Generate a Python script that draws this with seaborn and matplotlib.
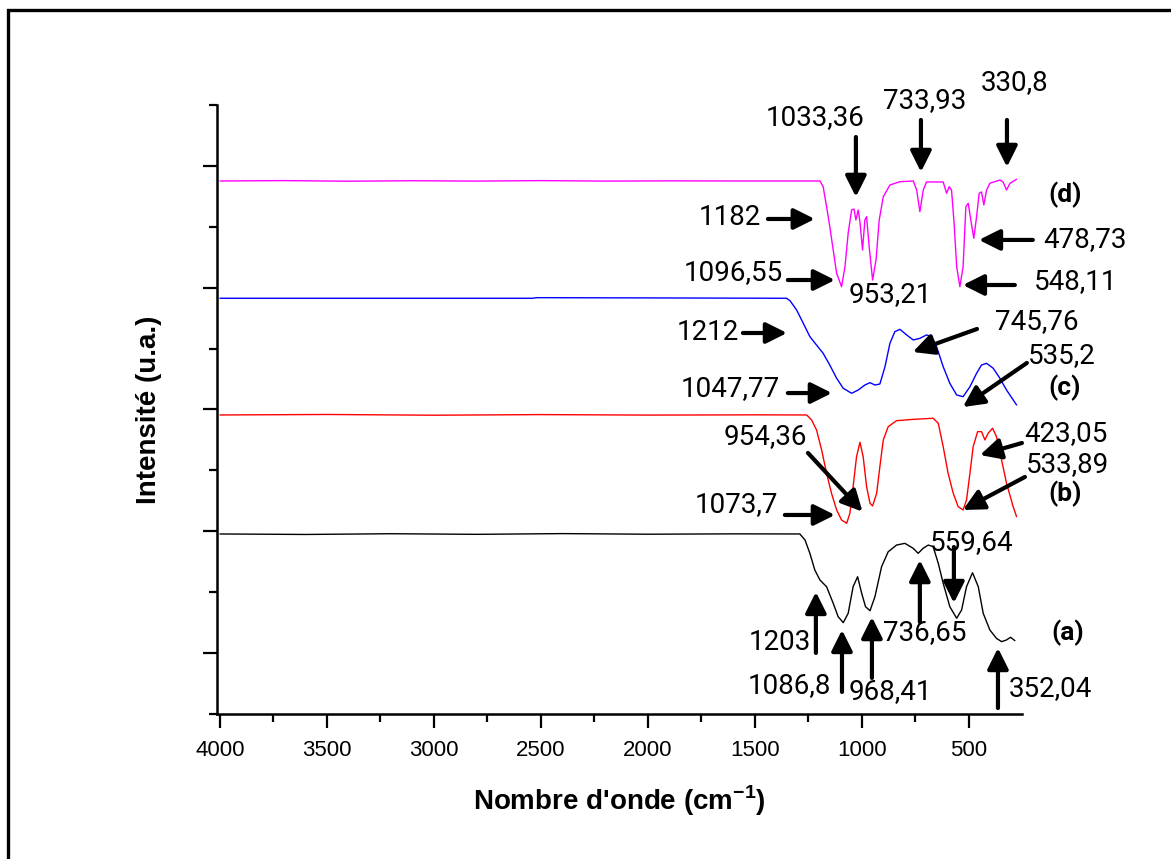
import matplotlib
matplotlib.use("Agg")
import matplotlib.pyplot as plt
from matplotlib.patches import Rectangle
from matplotlib.ticker import FixedLocator, NullFormatter
import seaborn as sns
import pandas as pd

# ---- spectra (wavenumber in cm-1, stacked intensity in a.u.) ----
wn_a = [4000, 3600, 3200, 2800, 2400, 2000, 1600, 1290, 1266, 1243, 1220, 1196, 1165, 1134,
        1111, 1087, 1064, 1041, 1020, 1001, 983, 962, 939, 908, 877, 838, 799, 760, 737,
        714, 690, 667, 643, 620, 589, 557, 534, 511, 483, 456, 433, 402, 371, 347, 324, 305, 285]
int_a = [147.8, 147.4, 148.0, 147.5, 148.1, 147.6, 147.9, 147.8, 142.9, 131.9, 118.2, 110.0, 104.5, 90.9,
         79.9, 75.0, 82.7, 104.5, 112.7, 99.1, 88.1, 84.8, 96.3, 120.9, 133.2, 138.7, 140.1, 136.0, 131.9,
         136.0, 138.7, 137.4, 123.7, 107.3, 88.1, 78.6, 85.4, 104.5, 116.0, 104.5, 82.7, 69.0, 62.1, 59.4, 60.8, 63.0, 60.2]

wn_b = [4000, 3500, 3000, 2500, 2000, 1500, 1258, 1235, 1212, 1188, 1165, 1142, 1118, 1095,
        1071, 1056, 1041, 1025, 1009, 994, 978, 962, 950, 931, 916, 900, 877, 838, 760, 667,
        643, 620, 597, 573, 550, 527, 511, 495, 480, 459, 441, 425, 410, 389, 371, 347, 324, 293, 277]
int_b = [245.5, 245.9, 245.3, 245.8, 245.4, 245.6, 245.5, 241.4, 233.2, 216.7, 197.6, 181.2, 167.5, 159.3,
         156.6, 164.8, 186.6, 211.2, 223.1, 211.2, 186.6, 173.0, 170.8, 181.2, 203.0, 225.0, 235.9, 240.8, 241.9, 242.8,
         238.7, 219.5, 197.6, 181.2, 170.2, 167.5, 175.7, 197.6, 219.5, 231.8, 231.8, 225.0, 230.5, 234.6, 227.7, 208.5, 189.4, 170.2, 162.0]

wn_c = [4000, 3000, 2540, 2520, 2000, 1352, 1336, 1305, 1274, 1243, 1212, 1181, 1150, 1118,
        1087, 1048, 1017, 986, 962, 939, 916, 892, 869, 846, 822, 791, 760, 729, 698, 674,
        651, 620, 589, 557, 527, 495, 464, 441, 417, 386, 355, 324, 277]
int_c = [341.3, 341.3, 341.3, 341.8, 341.6, 341.3, 339.3, 331.7, 320.8, 309.8, 302.9, 296.1, 286.5, 275.6,
         267.4, 263.3, 266.0, 270.1, 272.0, 270.1, 270.9, 285.1, 304.3, 313.9, 315.8, 311.2, 307.1, 308.4, 311.2, 309.8,
         301.6, 285.1, 271.5, 261.9, 260.5, 268.7, 279.7, 286.5, 287.9, 283.8, 275.6, 266.0, 253.7]

wn_d = [4000, 3700, 3400, 3100, 2800, 2500, 2200, 1900, 1600, 1196, 1181, 1165, 1150, 1134,
        1118, 1095, 1079, 1064, 1048, 1037, 1028, 1017, 1009, 997, 986, 978, 966, 950, 934,
        919, 900, 869, 822, 760, 744, 729, 713, 698, 620, 604, 592, 581, 569, 557, 542, 527,
        514, 503, 491, 477, 464, 452, 441, 430, 417, 402, 355, 340, 324, 308, 277]
int_d = [437.6, 437.9, 437.4, 437.8, 437.5, 437.9, 437.5, 437.7, 437.6, 437.6, 432.9, 416.5, 400.1, 380.9,
         361.8, 350.8, 367.2, 394.9, 413.8, 414.6, 405.6, 413.8, 403.9, 380.9, 405.6, 408.3, 383.7, 356.3, 372.7,
         405.6, 424.7, 434.3, 437.0, 437.6, 430.2, 412.4, 430.2, 436.8, 436.8, 427.5, 432.9, 430.2, 402.9, 367.2, 350.8, 367.2,
         416.5, 419.3, 405.6, 390.5, 408.3, 427.5, 428.6, 417.9, 430.2, 435.7, 438.4, 436.8, 430.2, 435.7, 439.0]

# ---- band labels: text, text position, arrow tail, arrow tip ----
bands = [
    ("1033,36", (1220, 489.3), (1028, 473.7), (1028, 424.5)),
    ("733,93", (705, 503.3), (724, 487.7), (724, 445.0)),
    ("330,8", (285, 518.1), (322, 487.7), (322, 449.1)),
    ("1182", (1617, 408.0), (1439, 406.4), (1220, 406.4)),
    ("1096,55", (1603, 362.1), (1346, 356.3), (1126, 356.3)),
    ("953,21", (869, 344.0), None, None),
    ("478,73", (-42, 389.2), (201, 389.2), (453, 389.2)),
    ("548,11", (0, 354.7), (285, 352.2), (528, 352.2)),
    ("1212", (1720, 313.6), (1556, 312.8), (1350, 312.8)),
    ("1047,77", (1617, 267.6), (1346, 263.5), (1140, 263.5)),
    ("745,76", (182, 321.8), (462, 316.1), (762, 297.2)),
    ("535,2", (65, 294.7), (229, 288.2), (528, 252.0)),
    ("954,36", (1453, 227.4), (1252, 214.3), (997, 166.1)),
    ("1073,7", (1584, 171.6), (1360, 163.4), (1126, 163.4)),
    ("423,05", (47, 229.9), (252, 222.5), (448, 212.6)),
    ("533,89", (37, 204.4), (238, 194.6), (528, 167.5)),
    ("1203", (1383, 59.1), (1215, 50.1), (1215, 100.2)),
    ("1086,8", (1341, 23.0), (1093, 18.1), (1093, 69.0)),
    ("968,41", (869, 18.1), (953, 29.6), (953, 79.6)),
    ("736,65", (705, 66.5), (729, 75.5), (729, 126.4)),
    ("559,64", (486, 140.4), (570, 137.1), (570, 91.1)),
    ("352,04", (121, 21.3), (364, 4.9), (364, 54.2)),
]

series_tags = ["(a)", "(b)", "(c)", "(d)"]
tag_pos = [(37, 66.5), (51, 180.6), (51, 267.6), (51, 426.1)]

sns.set_theme(style="ticks")
plt.rcParams["font.family"] = ["Liberation Sans", "DejaVu Sans"]
plt.rcParams["mathtext.fontset"] = "custom"
plt.rcParams["mathtext.rm"] = "Liberation Sans"
plt.rcParams["mathtext.bf"] = "Liberation Sans:bold"

fig = plt.figure(figsize=(11.71, 8.59), dpi=100)
fig.patch.set_facecolor("white")
ax = fig.add_axes([0.1853, 0.1688, 0.6874, 0.709])
ax.set_facecolor("white")

frames = []
for wn, iv, name in [(wn_a, int_a, "a"), (wn_b, int_b, "b"), (wn_c, int_c, "c"), (wn_d, int_d, "d")]:
    frames.append(pd.DataFrame({"wn": wn, "I": iv, "s": name}))
df = pd.concat(frames, ignore_index=True)
colors = {"a": "black", "b": "#ff0000", "c": "#0000ff", "d": "#ff00ff"}
for name, sub in df.groupby("s"):
    sns.lineplot(data=sub, x="wn", y="I", sort=False, estimator=None,
                 color=colors[name], lw=1.0, ax=ax, legend=False)

ax.set_xlim(4014, 252)
ax.set_ylim(0, 500)
sns.despine(ax=ax)
for side in ("left", "bottom"):
    ax.spines[side].set_linewidth(1.8)
    ax.spines[side].set_color("black")

ax.xaxis.set_major_locator(FixedLocator([4000, 3500, 3000, 2500, 2000, 1500, 1000, 500]))
ax.xaxis.set_minor_locator(FixedLocator([3750, 3250, 2750, 2250, 1750, 1250, 750]))
ax.yaxis.set_major_locator(FixedLocator([50, 150, 250, 350, 450]))
ax.yaxis.set_minor_locator(FixedLocator([0, 100, 200, 300, 400, 500]))
ax.yaxis.set_major_formatter(NullFormatter())
ax.tick_params(axis="both", which="major", direction="out", length=10, width=1.6, color="black")
ax.tick_params(axis="both", which="minor", direction="out", length=6, width=1.6, color="black")
ax.tick_params(axis="x", labelsize=16, pad=9, labelcolor="black")

label_font = dict(family=["Liberation Sans", "DejaVu Sans"], weight="bold", size=20, color="black")
ax.set_xlabel(r"Nombre d'onde (cm$^{\mathbf{-1}}$)", labelpad=16, **label_font)
ax.set_ylabel("Intensité (u.a.)", labelpad=26, **label_font)

ann_font = dict(family=["Roboto", "DejaVu Sans"], size=20, color="black")
arrow = dict(arrowstyle="-|>,head_length=0.9,head_width=0.45", lw=3.0, color="black",
             shrinkA=0, shrinkB=0, mutation_scale=14)
for txt, tpos, tail, tip in bands:
    ax.text(tpos[0], tpos[1], txt, ha="center", va="center", clip_on=False, **ann_font)
    if tail is not None:
        ax.annotate("", xy=tip, xytext=tail, arrowprops=arrow, annotation_clip=False)

for tag, pos in zip(series_tags, tag_pos):
    ax.text(pos[0], pos[1], tag, ha="center", va="center", clip_on=False,
            family=["Roboto", "DejaVu Sans"], weight="bold", size=19, color="black")

# outer frame (only top and left edges fall inside the canvas)
fig.add_artist(Rectangle((0.0070, -0.2), 1.2, 0.2 + 0.9885, transform=fig.transFigure,
                         fill=False, lw=2.4, edgecolor="black", clip_on=False))

fig.savefig("out.png", dpi=100, facecolor="white")
